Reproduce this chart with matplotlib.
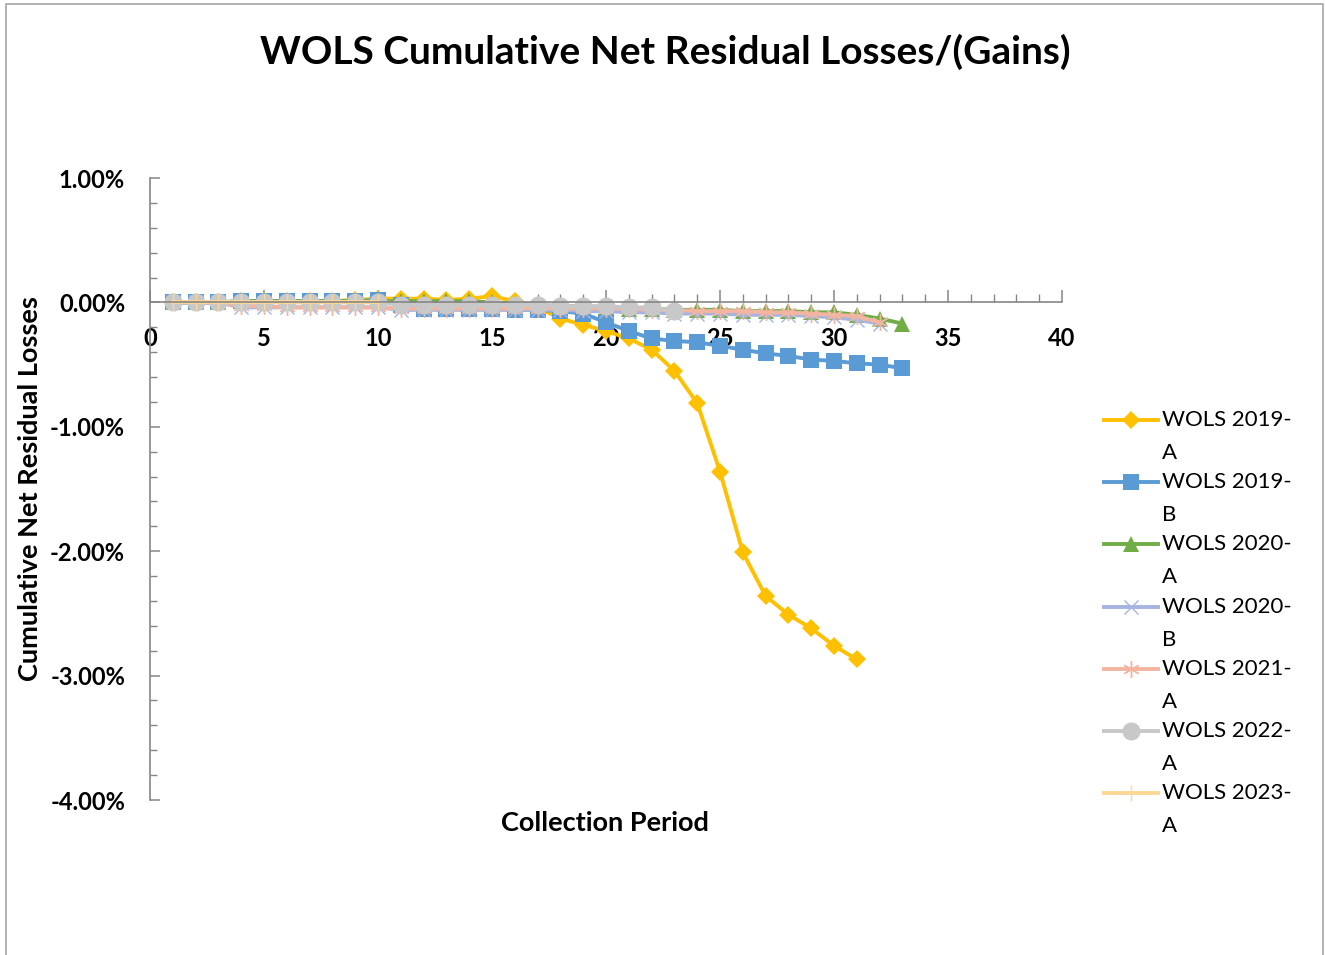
import matplotlib
matplotlib.use("Agg")
import matplotlib.pyplot as plt
from matplotlib.lines import Line2D
from matplotlib.patches import Rectangle
from matplotlib.ticker import MultipleLocator, FuncFormatter

plt.rcParams['font.family'] = ['Lato', 'DejaVu Sans']

# ---- data (percent) ----
periods_2019A = list(range(1, 32))
wols_2019A = [0.00, 0.00, 0.00, 0.01, 0.01, 0.01, 0.01, 0.01, 0.02, 0.03,
              0.03, 0.03, 0.02, 0.03, 0.05, 0.01,
              -0.04, -0.13, -0.18, -0.23, -0.29, -0.38, -0.55, -0.81, -1.36,
              -2.01, -2.36, -2.51, -2.62, -2.76, -2.87]

periods_2019B = list(range(1, 34))
wols_2019B = [0.00, 0.00, 0.00, 0.01, 0.01, 0.01, 0.01, 0.01, 0.01, 0.02,
              -0.02, -0.05, -0.05, -0.05, -0.05, -0.06, -0.06, -0.07, -0.09, -0.16,
              -0.23, -0.29, -0.31, -0.32, -0.35, -0.38, -0.41, -0.43, -0.46, -0.47,
              -0.49, -0.50, -0.53]

periods_2020A = list(range(1, 34))
wols_2020A = [0.00, 0.00, 0.00, 0.01, 0.01, 0.01, 0.01, 0.01, 0.01, 0.01,
              0.01, 0.01, 0.01, 0.01, 0.00, -0.01, -0.02, -0.03, -0.03, -0.04,
              -0.05, -0.05, -0.06, -0.06, -0.06, -0.07, -0.07, -0.07, -0.08, -0.08,
              -0.10, -0.13, -0.17]

periods_2020B = list(range(1, 33))
wols_2020B = [0.00, 0.00, 0.00, -0.04, -0.04, -0.04, -0.04, -0.04, -0.04, -0.04,
              -0.06, -0.06, -0.06, -0.06, -0.06, -0.06, -0.06, -0.06, -0.07, -0.07,
              -0.08, -0.08, -0.09, -0.09, -0.09, -0.10, -0.10, -0.10, -0.11, -0.12,
              -0.14, -0.17]

periods_2021A = list(range(1, 33))
wols_2021A = [0.00, 0.00, 0.00, -0.03, -0.03, -0.04, -0.04, -0.04, -0.04, -0.04,
              -0.05, -0.05, -0.05, -0.05, -0.05, -0.05, -0.05, -0.05, -0.05, -0.05,
              -0.05, -0.06, -0.06, -0.07, -0.07, -0.07, -0.08, -0.08, -0.09, -0.10,
              -0.11, -0.16]

periods_2022A = list(range(1, 24))
wols_2022A = [0.00, 0.00, 0.00, 0.00, 0.00, 0.00, 0.00, 0.00, 0.00, 0.00,
              -0.02, -0.02, -0.02, -0.02, -0.02, -0.02, -0.02, -0.03, -0.03, -0.03,
              -0.04, -0.04, -0.07]

periods_2023A = list(range(1, 11))
wols_2023A = [0.00, 0.00, 0.00, 0.00, 0.00, 0.00, 0.00, 0.00, 0.00, 0.00]

series_labels = ["WOLS 2019-A", "WOLS 2019-B", "WOLS 2020-A", "WOLS 2020-B",
                 "WOLS 2021-A", "WOLS 2022-A", "WOLS 2023-A"]

# ---- styles ----
styles = [
    dict(color="#FFC000", marker="D", ms=9.5, mew=0),
    dict(color="#5B9BD5", marker="s", ms=12, mew=0),
    dict(color="#70AD47", marker="^", ms=11, mew=0),
    dict(color="#A5B4E0", marker="x", ms=10, mew=1.0),
    dict(color="#F4B5A0", marker=(6, 2, 0), ms=12, mew=1.0),
    dict(color="#C8C8C8", marker="o", ms=13, mew=0),
    dict(color="#FFD796", marker="+", ms=12, mew=1.0),
]
data = [(periods_2019A, wols_2019A), (periods_2019B, wols_2019B),
        (periods_2020A, wols_2020A), (periods_2020B, wols_2020B),
        (periods_2021A, wols_2021A), (periods_2022A, wols_2022A),
        (periods_2023A, wols_2023A)]

W, H = 1325, 955
fig = plt.figure(figsize=(W / 100, H / 100), dpi=100)

# figure border
fig.add_artist(Rectangle((6 / W, -0.02), (1323 - 6) / W, 1 - 4 / H + 0.02,
                         transform=fig.transFigure, fill=False,
                         edgecolor="#A6A6A6", lw=1.2))

ax = fig.add_axes([150 / W, 1 - 800 / H, (1062 - 150) / W, (800 - 178) / H])

for (x, y), st in zip(data, styles):
    ax.plot(x, y, color=st["color"], lw=2.8, marker=st["marker"],
            markersize=st["ms"], markeredgewidth=st["mew"],
            markerfacecolor=st["color"], markeredgecolor=st["color"])

ax.set_xlim(0, 40)
ax.set_ylim(-4.0, 1.0)

for s in ["top", "right"]:
    ax.spines[s].set_visible(False)
ax.spines["bottom"].set_position(("data", 0))
for s in ["left", "bottom"]:
    ax.spines[s].set_color("#868686")
    ax.spines[s].set_linewidth(1.2)

ax.xaxis.set_major_locator(MultipleLocator(5))
ax.xaxis.set_minor_locator(MultipleLocator(1))
ax.yaxis.set_major_locator(MultipleLocator(1))
ax.yaxis.set_minor_locator(MultipleLocator(0.2))
ax.yaxis.set_major_formatter(FuncFormatter(lambda v, p: f"{v:.2f}%"))

ax.tick_params(axis="x", which="major", direction="in", length=9, width=1.1,
               color="#868686", pad=18, labelsize=17)
ax.tick_params(axis="x", which="minor", direction="in", length=6, width=1.0,
               color="#868686")
ax.tick_params(axis="y", which="major", direction="in", length=7, width=1.1,
               color="#868686", pad=18, labelsize=17)
ax.tick_params(axis="y", which="minor", direction="in", length=5, width=1.0,
               color="#868686")
for lab in ax.get_xticklabels() + ax.get_yticklabels():
    lab.set_fontweight("bold")

# titles
fig.text(665 / W, 1 - 52 / H, "WOLS Cumulative Net Residual Losses/(Gains)",
         ha="center", va="center", fontsize=28, fontweight="bold")
fig.text(605 / W, 1 - 823 / H, "Collection Period",
         ha="center", va="center", fontsize=19.5, fontweight="bold")
fig.text(30 / W, 1 - 489 / H, "Cumulative Net Residual Losses",
         ha="center", va="center", rotation=90, fontsize=19.5, fontweight="bold")

# legend (manual)
for i, (lab, st) in enumerate(zip(series_labels, styles)):
    yc = 1 - (420 + 62.2 * i) / H
    x0, x1 = 1104 / W, 1158 / W
    fig.add_artist(Line2D([x0, x1], [yc, yc], transform=fig.transFigure,
                          color=st["color"], lw=2.8))
    fig.add_artist(Line2D([(x0 + x1) / 2], [yc], transform=fig.transFigure,
                          color=st["color"], lw=0, marker=st["marker"],
                          markersize=st["ms"], markeredgewidth=st["mew"],
                          markerfacecolor=st["color"], markeredgecolor=st["color"]))
    first, second = lab.split("-")
    fig.text(1162 / W, yc, first + "-", ha="left", va="center", fontsize=16)
    fig.text(1162 / W, yc - 33 / H, second, ha="left", va="center", fontsize=16)

fig.savefig("out.png", dpi=100)
